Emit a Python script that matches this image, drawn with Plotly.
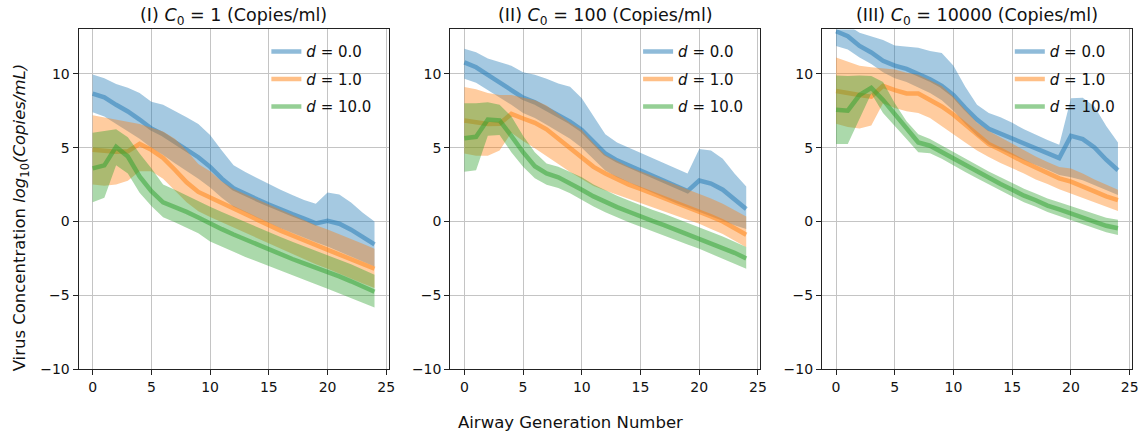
import plotly.graph_objects as go

# Airway generation index (x axis)
generations = list(range(25))

panel_titles = [
    "(I) <i>C</i><sub>0</sub> = 1 (Copies/ml)",
    "(II) <i>C</i><sub>0</sub> = 100 (Copies/ml)",
    "(III) <i>C</i><sub>0</sub> = 10000 (Copies/ml)",
]
d_labels = ["0.0", "1.0", "10.0"]

# ---- Panel I : C0 = 1 ----
p1_d0_mean = [8.65, 8.4, 7.9, 7.45, 6.9, 6.3, 5.9, 5.4, 4.85, 4.35, 3.7, 2.9, 2.25, 1.85, 1.5,
              1.15, 0.8, 0.5, 0.2, -0.13, 0.05, -0.15, -0.55, -1.06, -1.55]
p1_d0_upper = [9.95, 9.7, 9.3, 9.05, 8.7, 8.1, 7.9, 7.5, 7.05, 6.6, 5.85, 4.8, 3.8, 3.35, 2.95,
               2.5, 2.15, 1.8, 1.45, 1.2, 1.97, 1.82, 1.28, 0.6, 0.0]
p1_d0_lower = [7.4, 7.1, 6.6, 6.1, 5.6, 5.0, 4.5, 3.95, 3.4, 2.9, 2.3, 1.6, 1.0, 0.6, 0.25,
               -0.1, -0.45, -0.8, -1.1, -1.4, -1.7, -2.0, -2.35, -2.7, -3.05]

p1_d1_mean = [4.85, 4.78, 4.72, 4.75, 5.25, 4.85, 4.3, 3.5, 2.65, 2.0, 1.62, 1.25, 0.85, 0.5, 0.15,
              -0.3, -0.62, -0.95, -1.28, -1.6, -1.9, -2.2, -2.52, -2.85, -3.2]
p1_d1_upper = [7.2, 7.05, 6.85, 6.75, 6.6, 6.35, 6.1, 5.6, 4.8, 3.9, 3.4, 2.7, 2.2, 1.85, 1.5,
               1.1, 0.75, 0.4, 0.1, -0.25, -0.55, -0.85, -1.2, -1.5, -1.85]
p1_d1_lower = [2.5, 2.42, 2.5, 2.75, 3.4, 3.4, 2.9, 2.1, 1.3, 0.7, 0.3, -0.05, -0.4, -0.75, -1.1,
               -1.5, -1.85, -2.2, -2.55, -2.9, -3.2, -3.5, -3.85, -4.2, -4.5]

p1_d10_mean = [3.6, 3.8, 5.05, 4.4, 3.05, 2.05, 1.3, 1.0, 0.65, 0.27, -0.15, -0.52, -0.88, -1.22, -1.57,
               -1.9, -2.22, -2.54, -2.84, -3.12, -3.4, -3.72, -4.05, -4.4, -4.76]
p1_d10_upper = [6.0, 6.1, 6.25, 5.7, 4.6, 3.6, 2.5, 2.15, 1.75, 1.4, 1.0, 0.65, 0.3, -0.05, -0.4,
                -0.72, -1.05, -1.37, -1.67, -1.95, -2.25, -2.55, -2.9, -3.25, -3.6]
p1_d10_lower = [1.3, 1.6, 3.8, 3.25, 1.95, 1.05, 0.28, -0.05, -0.4, -0.8, -1.35, -1.7, -2.05, -2.4, -2.75,
                -3.05, -3.35, -3.65, -3.95, -4.25, -4.55, -4.85, -5.15, -5.5, -5.82]

# ---- Panel II : C0 = 100 ----
p2_d0_mean = [10.77, 10.44, 9.93, 9.45, 8.9, 8.38, 8.07, 7.63, 7.19, 6.75, 6.2, 5.4, 4.6, 4.14, 3.8,
              3.45, 3.08, 2.75, 2.4, 2.06, 2.77, 2.57, 2.15, 1.46, 0.84]
p2_d0_upper = [11.7, 11.46, 11.04, 10.82, 10.55, 10.11, 9.93, 9.67, 9.34, 9.12, 8.34, 7.12, 5.9, 5.35, 5.0,
               4.69, 4.31, 3.96, 3.65, 3.25, 4.91, 4.8, 4.25, 3.25, 2.37]
p2_d0_lower = [9.67, 9.4, 8.9, 8.4, 7.9, 7.35, 7.0, 6.55, 6.1, 5.6, 5.0, 4.2, 3.45, 3.0, 2.65,
               2.3, 1.95, 1.6, 1.25, 0.9, 0.6, 0.35, 0.05, -0.25, -0.5]

p2_d1_mean = [6.84, 6.72, 6.6, 6.62, 7.28, 6.97, 6.68, 6.24, 5.6, 4.92, 4.3, 3.7, 3.25, 2.85, 2.5,
              2.2, 1.9, 1.6, 1.3, 1.0, 0.7, 0.35, 0.0, -0.45, -0.9]
p2_d1_upper = [9.11, 8.95, 8.7, 8.56, 8.56, 8.4, 8.2, 7.85, 7.25, 6.68, 6.2, 5.3, 4.5, 4.1, 3.7,
               3.4, 3.1, 2.8, 2.5, 2.2, 1.9, 1.55, 1.2, 0.75, 0.33]
p2_d1_lower = [4.6, 4.45, 4.45, 4.8, 6.0, 5.45, 4.95, 4.45, 3.9, 3.35, 2.85, 2.4, 2.1, 1.8, 1.5,
               1.25, 0.95, 0.68, 0.4, 0.12, -0.15, -0.5, -0.85, -1.3, -1.75]

p2_d10_mean = [5.64, 5.73, 6.9, 6.84, 5.8, 4.69, 3.74, 3.25, 2.99, 2.59, 2.15, 1.7, 1.3, 0.97, 0.66,
               0.33, 0.04, -0.24, -0.55, -0.84, -1.13, -1.44, -1.79, -2.12, -2.5]
p2_d10_upper = [8.0, 8.0, 8.08, 7.9, 7.12, 5.8, 4.69, 3.92, 3.7, 3.36, 2.99, 2.5, 2.1, 1.75, 1.42,
                1.1, 0.8, 0.52, 0.22, -0.08, -0.37, -0.68, -1.02, -1.37, -1.73]
p2_d10_lower = [3.36, 3.47, 5.8, 5.86, 4.69, 3.7, 2.92, 2.48, 2.26, 1.92, 1.48, 1.02, 0.62, 0.28, -0.05,
                -0.38, -0.67, -0.95, -1.25, -1.55, -1.85, -2.15, -2.5, -2.85, -3.2]

# ---- Panel III : C0 = 10000 ----
p3_d0_mean = [12.88, 12.54, 11.88, 11.44, 10.88, 10.55, 10.33, 10.0, 9.62, 9.18, 8.56, 7.68, 6.9, 6.28, 5.95,
              5.58, 5.24, 4.91, 4.58, 4.29, 5.8, 5.58, 5.02, 4.18, 3.47]
p3_d0_upper = [13.6, 13.3, 12.77, 12.54, 12.28, 11.92, 11.84, 11.77, 11.55, 11.4, 10.55, 9.12, 7.9, 7.35, 7.06,
               6.68, 6.24, 5.86, 5.51, 5.2, 8.34, 8.38, 7.79, 6.46, 5.35]
p3_d0_lower = [11.88, 11.65, 11.1, 10.66, 10.1, 9.7, 9.45, 9.1, 8.7, 8.2, 7.5, 6.6, 5.8, 5.2, 4.85,
               4.5, 4.15, 3.8, 3.5, 3.15, 3.0, 2.8, 2.5, 2.15, 1.8]

p3_d1_mean = [8.83, 8.67, 8.56, 8.45, 9.18, 8.89, 8.67, 8.67, 8.23, 7.79, 7.23, 6.57, 5.9, 5.24, 4.85,
              4.4, 4.03, 3.65, 3.3, 2.92, 2.7, 2.41, 2.04, 1.7, 1.44]
p3_d1_upper = [11.1, 10.82, 10.55, 10.44, 10.38, 10.29, 10.07, 9.93, 9.56, 9.18, 8.45, 7.57, 6.68, 6.13, 5.69,
               5.24, 4.85, 4.4, 4.03, 3.69, 3.58, 3.25, 2.85, 2.48, 2.15]
p3_d1_lower = [6.62, 6.39, 6.3, 6.5, 8.0, 7.68, 7.46, 7.35, 7.01, 6.46, 5.9, 5.35, 4.8, 4.36, 3.96,
               3.58, 3.25, 2.85, 2.54, 2.19, 1.92, 1.59, 1.3, 1.0, 0.71]

p3_d10_mean = [7.57, 7.5, 8.56, 9.05, 8.23, 7.23, 6.24, 5.35, 5.13, 4.69, 4.25, 3.8, 3.36, 2.92, 2.54,
               2.15, 1.75, 1.44, 1.08, 0.82, 0.55, 0.27, -0.02, -0.29, -0.46]
p3_d10_upper = [9.89, 9.85, 9.89, 9.85, 9.45, 8.0, 6.79, 5.9, 5.58, 5.13, 4.7, 4.25, 3.8, 3.38, 3.0,
                2.6, 2.22, 1.9, 1.55, 1.3, 1.05, 0.78, 0.5, 0.25, 0.11]
p3_d10_lower = [5.24, 5.24, 7.01, 8.67, 7.35, 6.46, 5.58, 4.69, 4.62, 4.25, 3.8, 3.35, 2.92, 2.48, 2.1,
                1.7, 1.3, 1.0, 0.65, 0.38, 0.1, -0.18, -0.45, -0.72, -0.91]

panels = [
    [(p1_d0_mean, p1_d0_upper, p1_d0_lower), (p1_d1_mean, p1_d1_upper, p1_d1_lower),
     (p1_d10_mean, p1_d10_upper, p1_d10_lower)],
    [(p2_d0_mean, p2_d0_upper, p2_d0_lower), (p2_d1_mean, p2_d1_upper, p2_d1_lower),
     (p2_d10_mean, p2_d10_upper, p2_d10_lower)],
    [(p3_d0_mean, p3_d0_upper, p3_d0_lower), (p3_d1_mean, p3_d1_upper, p3_d1_lower),
     (p3_d10_mean, p3_d10_upper, p3_d10_lower)],
]

# tab10 colours
rgb = [(31, 119, 180), (255, 127, 14), (44, 160, 44)]

W, H = 1148, 443
FONT = "DejaVu Sans"
TEXT = "#111111"
panel_left_px = [79, 453, 827]
panel_width_px = 312
top_px, bottom_px = 30, 376

fig = go.Figure()
layout = dict(
    width=W, height=H,
    margin=dict(l=0, r=0, t=0, b=0),
    paper_bgcolor="white", plot_bgcolor="white",
    font=dict(family=FONT, size=14, color=TEXT),
    showlegend=True,
)

annotations = []
for p, series in enumerate(panels):
    idx = "" if p == 0 else str(p + 1)
    xa, ya = "x" + idx, "y" + idx
    legend_name = "legend" + idx
    for s, (mean, upper, lower) in enumerate(series):
        r, g, b = rgb[s]
        # shaded range between lower and upper bounds
        fig.add_trace(go.Scatter(
            x=generations + generations[::-1],
            y=upper + lower[::-1],
            fill="toself", mode="lines",
            line=dict(width=0, color=f"rgba({r},{g},{b},0)"),
            fillcolor=f"rgba({r},{g},{b},0.4)",
            hoverinfo="skip", showlegend=False,
            xaxis=xa, yaxis=ya,
        ))
        fig.add_trace(go.Scatter(
            x=generations, y=mean, mode="lines",
            line=dict(width=4.5, color=f"rgba({r},{g},{b},0.5)"),
            name=f"<i>d</i> = {d_labels[s]}",
            legend=legend_name, legendgroup=f"{p}-{s}",
            xaxis=xa, yaxis=ya,
        ))

    x0 = panel_left_px[p] / W
    x1 = (panel_left_px[p] + panel_width_px) / W
    axis_common = dict(
        showline=True, linecolor="#222222", linewidth=1, mirror=True,
        ticks="outside", ticklen=5, tickwidth=1, tickcolor="#222222",
        showgrid=True, gridcolor="#c4c4c4", gridwidth=1,
        zeroline=False, tickfont=dict(family=FONT, size=14, color=TEXT),
    )
    layout["xaxis" + idx] = dict(
        domain=[x0, x1], range=[-1.2, 25.2], tickvals=[0, 5, 10, 15, 20, 25],
        anchor=ya, **axis_common)
    layout["yaxis" + idx] = dict(
        domain=[1 - bottom_px / H, 1 - top_px / H], range=[-10, 13],
        tickvals=[-10, -5, 0, 5, 10], anchor=xa, **axis_common)
    layout[legend_name] = dict(
        x=(panel_left_px[p] + 189) / W, y=1 - 36 / H,
        xanchor="left", yanchor="top",
        bgcolor="rgba(0,0,0,0)", borderwidth=0,
        font=dict(family=FONT, size=15, color=TEXT),
        tracegroupgap=5, traceorder="grouped",
    )
    annotations.append(dict(
        text=panel_titles[p], xref="paper", yref="paper",
        x=(x0 + x1) / 2, y=1 - 17 / H, xanchor="center", yanchor="middle",
        showarrow=False, font=dict(family=FONT, size=17.5, color=TEXT),
    ))

annotations.append(dict(
    text="Airway Generation Number", xref="paper", yref="paper",
    x=0.5, y=1 - 430 / H, xanchor="center", yanchor="middle",
    showarrow=False, font=dict(family=FONT, size=16.5, color=TEXT),
))
annotations.append(dict(
    text="Virus Concentration <i>log</i><sub>10</sub><i>(Copies/mL)</i>",
    xref="paper", yref="paper", x=21 / W, y=0.5,
    xanchor="center", yanchor="middle", textangle=-90,
    showarrow=False, font=dict(family=FONT, size=16.5, color=TEXT),
))
layout["annotations"] = annotations

fig.update_layout(**layout)
fig.write_html("out.html")
